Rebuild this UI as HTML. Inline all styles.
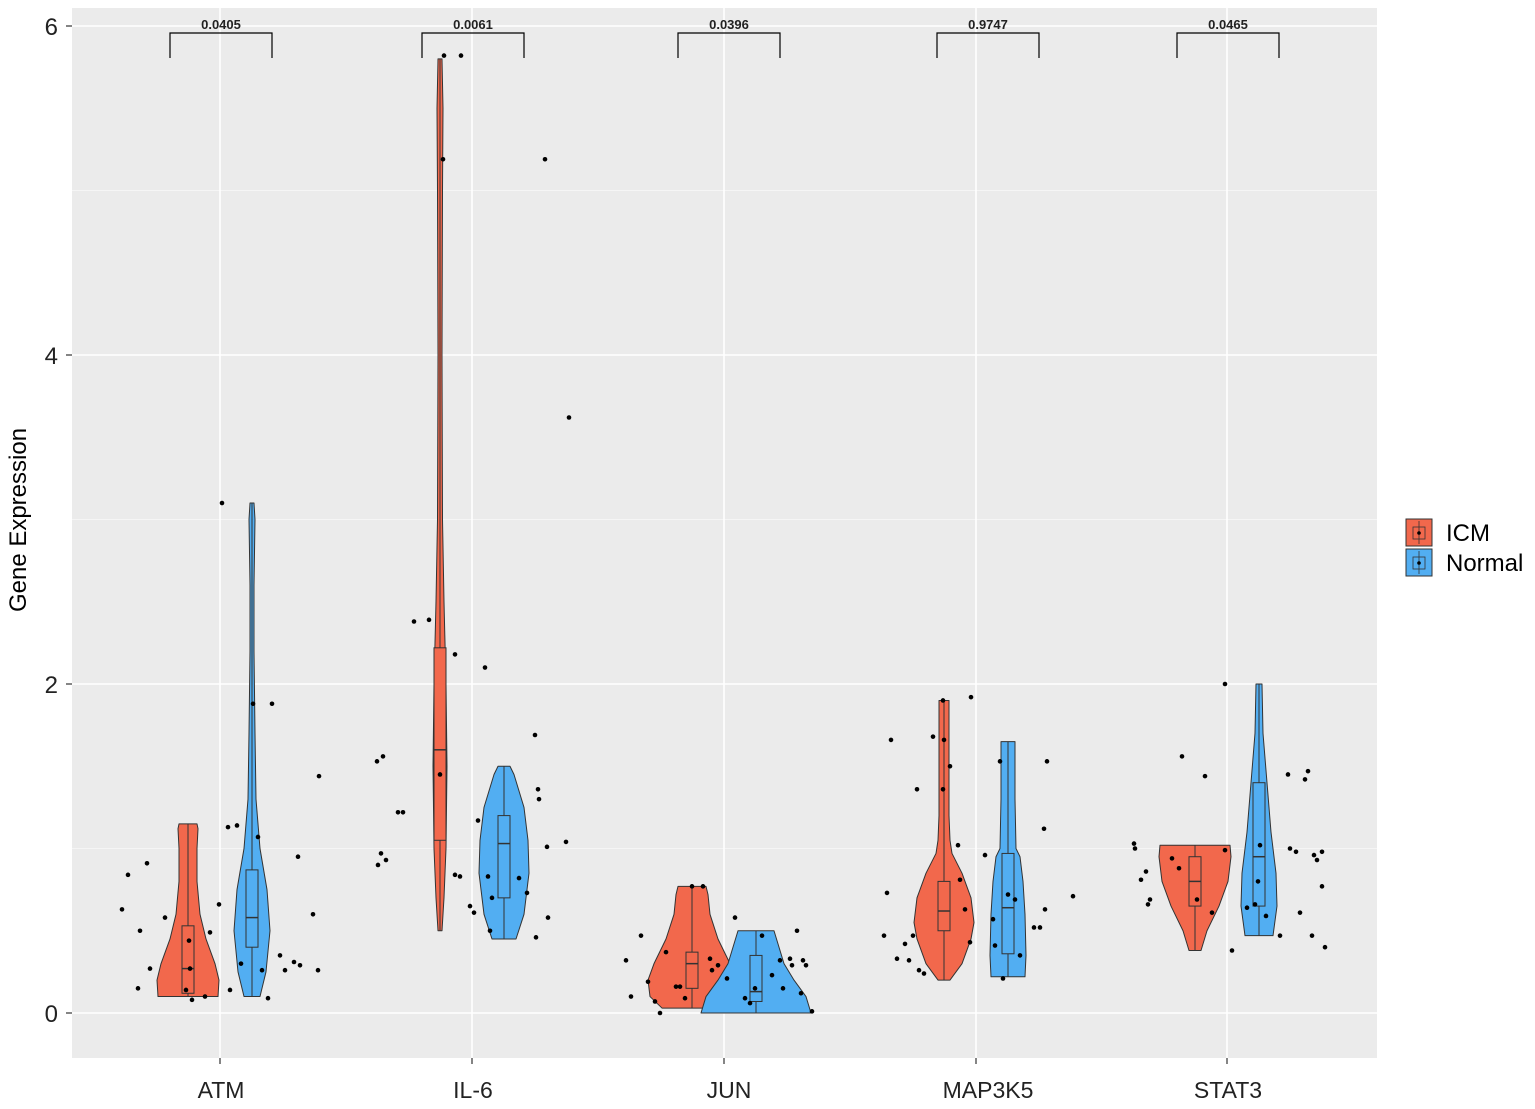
<!DOCTYPE html>
<html><head><meta charset="utf-8">
<style>
html,body{margin:0;padding:0;background:#fff;}
svg{display:block;font-family:"Liberation Sans",Arial,sans-serif;}
</style></head>
<body>
<svg id="chart" width="1535" height="1109" viewBox="0 0 1535 1109" xmlns="http://www.w3.org/2000/svg">
<rect x="72" y="8" width="1305" height="1050" fill="#ebebeb"/>
<g id="grid"></g>
<g id="marks"></g>
<g id="axes"></g>
<text x="0" y="0" transform="translate(26,520) rotate(-90)" text-anchor="middle" font-size="24" fill="#000">Gene Expression</text>
<g>
<rect x="1406" y="519" width="26" height="27" fill="#f2684c" stroke="#333" stroke-width="1"/>
<line x1="1419" y1="521" x2="1419" y2="544" stroke="#333" stroke-width="0.8"/>
<rect x="1413" y="527" width="12" height="12" fill="none" stroke="#333" stroke-width="0.8"/>
<circle cx="1419" cy="533" r="1.8" fill="#000"/>
<text x="1446" y="541" font-size="24">ICM</text>
<rect x="1406" y="549" width="26" height="27" fill="#52aef2" stroke="#333" stroke-width="1"/>
<line x1="1419" y1="551" x2="1419" y2="574" stroke="#333" stroke-width="0.8"/>
<rect x="1413" y="557" width="12" height="12" fill="none" stroke="#333" stroke-width="0.8"/>
<circle cx="1419" cy="563" r="1.8" fill="#000"/>
<text x="1446" y="571" font-size="24">Normal</text>
</g>
</svg>
<script>
const genes = ["ATM","IL-6","JUN","MAP3K5","STAT3"];
const pValues = ["0.0405","0.0061","0.0396","0.9747","0.0465"];
const yTicks = [0,2,4,6];
const yMinor = [1,3,5];
// box stats [q1, median, q3] for ICM and Normal
const icmBox = [[0.12,0.27,0.53],[1.05,1.6,2.22],[0.15,0.3,0.37],[0.5,0.62,0.8],[0.65,0.8,0.95]];
const normalBox = [[0.4,0.58,0.87],[0.7,1.03,1.2],[0.07,0.13,0.35],[0.36,0.64,0.97],[0.65,0.95,1.4]];
// violin density profiles: [value, half-width]
const icmViolin = [
 [[0.1,30],[0.2,31],[0.3,27],[0.45,18],[0.6,12],[0.8,9],[1.0,9],[1.12,10],[1.15,9]],
 [[0.5,2],[0.7,4],[1.0,6],[1.5,7],[2.0,6],[2.5,4],[3.0,2.5],[4.0,2],[5.0,2.5],[5.5,3],[5.8,2]],
 [[0.03,30],[0.1,42],[0.2,44],[0.3,38],[0.45,26],[0.6,18],[0.72,16],[0.77,14]],
 [[0.2,6],[0.3,18],[0.45,27],[0.55,30],[0.7,27],[0.85,18],[0.97,8],[1.05,6],[1.2,5],[1.5,5],[1.9,5]],
 [[0.38,6],[0.5,12],[0.65,24],[0.8,33],[0.95,36],[1.02,35]]
];
const normalViolin = [
 [[0.1,8],[0.25,14],[0.5,18],[0.75,15],[1.0,8],[1.3,4],[1.7,3],[2.2,2],[2.6,2],[3.0,3],[3.1,2]],
 [[0.45,12],[0.6,20],[0.85,25],[1.05,24],[1.25,20],[1.45,10],[1.5,6]],
 [[0.0,55],[0.1,50],[0.2,38],[0.3,28],[0.42,22],[0.5,18]],
 [[0.22,17],[0.35,18],[0.6,17],[0.8,15],[0.95,12],[1.0,8],[1.3,7],[1.5,7],[1.65,7]],
 [[0.47,14],[0.65,18],[0.85,17],[1.1,12],[1.4,8],[1.7,4],[2.0,3]]
];
// jitter points: [x-offset from gene label centre, value]
const points = [
 [[-99,0.63],[-93,0.84],[-81,0.5],[-83,0.15],[-71,0.27],[-74,0.91],[-56,0.58],[-35,0.14],[-31,0.27],[-32,0.44],[-29,0.08],[-16,0.1],[-11,0.49],[-2,0.66],[1,3.1],[7,1.13],[16,1.14],[9,0.14],[20,0.3],[32,1.88],[37,1.07],[41,0.26],[47,0.09],[51,1.88],[59,0.35],[64,0.26],[73,0.31],[79,0.29],[77,0.95],[92,0.6],[97,0.26],[98,1.44]],
 [[-96,1.53],[-90,1.56],[-95,0.9],[-92,0.97],[-87,0.93],[-75,1.22],[-70,1.22],[-59,2.38],[-44,2.39],[-33,1.45],[-29,5.82],[-30,5.19],[-18,2.18],[-12,5.82],[-18,0.84],[-13,0.83],[-3,0.65],[1,0.61],[5,1.17],[12,2.1],[15,0.83],[17,0.5],[19,0.7],[46,0.82],[54,0.73],[62,1.69],[65,1.36],[66,1.3],[72,5.19],[74,1.01],[75,0.58],[63,0.46],[93,1.04],[96,3.62]],
 [[-103,0.32],[-98,0.1],[-88,0.47],[-81,0.19],[-74,0.07],[-69,0],[-63,0.37],[-53,0.16],[-49,0.16],[-44,0.09],[-37,0.77],[-26,0.77],[-19,0.33],[-17,0.26],[-11,0.29],[-2,0.21],[6,0.58],[16,0.09],[21,0.06],[26,0.15],[33,0.47],[43,0.23],[51,0.32],[54,0.15],[61,0.33],[63,0.29],[68,0.5],[72,0.12],[74,0.32],[77,0.29],[83,0.01]],
 [[-104,0.47],[-101,0.73],[-97,1.66],[-91,0.33],[-83,0.42],[-79,0.32],[-75,0.47],[-71,1.36],[-69,0.26],[-64,0.24],[-55,1.68],[-45,1.9],[-44,1.66],[-45,1.36],[-38,1.5],[-30,1.02],[-28,0.81],[-23,0.63],[-18,0.43],[-17,1.92],[-3,0.96],[5,0.57],[7,0.41],[12,1.53],[15,0.21],[20,0.72],[27,0.69],[32,0.35],[46,0.52],[52,0.52],[56,1.12],[59,1.53],[57,0.63],[85,0.71]],
 [[-94,1.03],[-93,1.0],[-87,0.81],[-82,0.86],[-78,0.69],[-80,0.66],[-46,1.56],[-56,0.94],[-49,0.88],[-31,0.69],[-23,1.44],[-16,0.61],[-3,0.99],[-3,2.0],[4,0.38],[19,0.64],[27,0.66],[30,0.8],[32,1.02],[38,0.59],[52,0.47],[60,1.45],[62,1.0],[68,0.98],[72,0.61],[77,1.42],[80,1.47],[84,0.47],[86,0.96],[89,0.93],[94,0.98],[94,0.77],[97,0.4]]
];

const NS="http://www.w3.org/2000/svg";
const centers=[220,472,724,976,1227];
const labelX=[221,473,729,988,1228];
const dodge=32;
function yS(v){return 1013-v*164.5;}
function mk(tag,attrs,parent){const e=document.createElementNS(NS,tag);for(const k in attrs)e.setAttribute(k,attrs[k]);parent.appendChild(e);return e;}
const grid=document.getElementById('grid'),marks=document.getElementById('marks'),axes=document.getElementById('axes');
yMinor.forEach(v=>{const l=mk('line',{x1:72,x2:1377,y1:yS(v),y2:yS(v),stroke:'#f5f5f5','stroke-width':1},grid);

});
yTicks.forEach(v=>{const l=mk('line',{x1:72,x2:1377,y1:yS(v),y2:yS(v),stroke:'#fff','stroke-width':1.6},grid);


const t=mk('text',{x:58,y:yS(v)+9,'text-anchor':'end','font-size':24,fill:'#222'},axes);t.textContent=v;


mk('line',{x1:66,x2:72,y1:yS(v),y2:yS(v),stroke:'#333','stroke-width':1.2},axes);});
genes.forEach((g,i)=>{const cx=centers[i],lx=labelX[i];
const l=mk('line',{x1:cx,x2:cx,y1:8,y2:1058,stroke:'#fff','stroke-width':1.6},grid);


mk('line',{x1:cx,x2:cx,y1:1058,y2:1064,stroke:'#333','stroke-width':1.2},axes);
const t=mk('text',{x:lx,y:1098,'text-anchor':'middle','font-size':23,fill:'#222'},axes);t.textContent=g;


[[icmViolin,icmBox,'#f2684c',-dodge,'icm'],[normalViolin,normalBox,'#52aef2',dodge,'normal']].forEach(([vio,box,col,off,nm])=>{
 const x0=cx+off,prof=vio[i];
 let d='M'+x0+','+yS(prof[0][0]);
 prof.forEach(p=>{d+=' L'+(x0+p[1])+','+yS(p[0]);});
 for(let k=prof.length-1;k>=0;k--){d+=' L'+(x0-prof[k][1])+','+yS(prof[k][0]);}
 d+='Z';
 const v=mk('path',{d:d,fill:col,stroke:'#333','stroke-width':1,'stroke-linejoin':'round'},marks);
 
 
 const b=box[i];
 mk('line',{x1:x0,x2:x0,y1:yS(prof[0][0]),y2:yS(prof[prof.length-1][0]),stroke:'#333','stroke-width':1},marks);
 const r=mk('rect',{x:x0-6,y:yS(b[2]),width:12,height:yS(b[0])-yS(b[2]),fill:col,stroke:'#333','stroke-width':1},marks);
 
 
 mk('line',{x1:x0-6,x2:x0+6,y1:yS(b[1]),y2:yS(b[1]),stroke:'#333','stroke-width':1.5},marks);
});
points[i].forEach(p=>{const c=mk('circle',{cx:lx+p[0],cy:yS(p[1]),r:2.3,fill:'#000'},marks);

});
const bx1=lx-51,bx2=lx+51;
const br=mk('path',{d:`M${bx1},58 L${bx1},33 L${bx2},33 L${bx2},58`,fill:'none',stroke:'#000','stroke-width':1.2},marks);


const pt=mk('text',{x:(bx1+bx2)/2,y:29,'text-anchor':'middle','font-size':13,'font-weight':'bold',fill:'#222'},marks);pt.textContent=pValues[i];


});
</script>
</body></html>
